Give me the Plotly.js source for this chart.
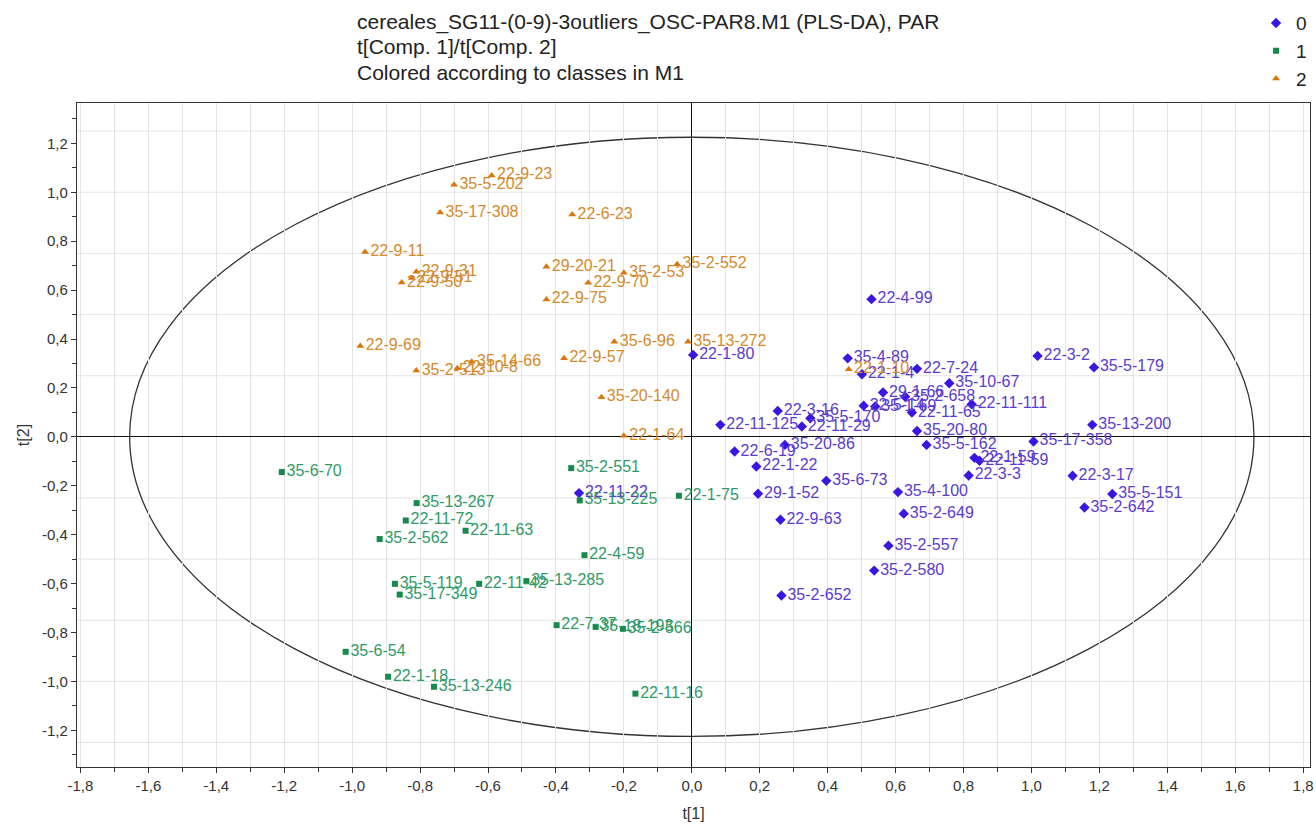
<!DOCTYPE html>
<html>
<head>
<meta charset="utf-8">
<script src="https://cdn.plot.ly/plotly-3.0.1.min.js"></script>
<style>html,body{margin:0;padding:0;background:#fff;}#chart{width:1316px;height:827px;}</style>
</head>
<body>
<div id="chart"></div>
<script>
// Class 0 (blue diamonds)
const names0 = ['22-1-80','22-4-99','35-4-89','22-1-4','22-7-24','35-10-67','29-1-66','35-2-658','22-5-14','35-1-69','22-11-65','22-11-111','35-20-80','35-5-162','22-3-16','35-5-170','22-11-29','22-11-125','35-20-86','22-6-19','22-1-22','35-6-73','29-1-52','35-4-100','22-3-3','22-1-59','22-11-59','22-3-2','35-5-179','35-13-200','35-17-358','22-3-17','35-5-151','35-2-642','22-9-63','35-2-649','35-2-557','35-2-580','35-2-652','22-11-22'];
const x0 = [0.004,0.529,0.459,0.501,0.663,0.758,0.563,0.628,0.506,0.540,0.648,0.824,0.663,0.691,0.253,0.349,0.324,0.084,0.274,0.126,0.190,0.396,0.195,0.607,0.815,0.832,0.847,1.018,1.184,1.179,1.006,1.121,1.238,1.156,0.261,0.624,0.579,0.537,0.264,-0.332];
const y0 = [0.335,0.563,0.321,0.256,0.278,0.219,0.181,0.164,0.127,0.124,0.099,0.133,0.024,-0.033,0.106,0.076,0.042,0.049,-0.033,-0.060,-0.121,-0.180,-0.233,-0.226,-0.158,-0.086,-0.098,0.331,0.284,0.049,-0.019,-0.159,-0.234,-0.289,-0.339,-0.314,-0.445,-0.547,-0.649,-0.230];

// Class 1 (green squares)
const names1 = ['35-6-70','35-2-551','35-13-225','22-1-75','35-13-267','22-11-72','22-11-63','35-2-562','22-4-59','35-5-119','22-11-42','35-13-285','35-17-349','22-7-37','35-18-193','35-2-566','35-6-54','22-1-18','35-13-246','22-11-16'];
const x1 = [-1.207,-0.355,-0.330,-0.038,-0.810,-0.842,-0.666,-0.919,-0.316,-0.874,-0.626,-0.487,-0.860,-0.398,-0.283,-0.203,-1.019,-0.894,-0.759,-0.166];
const y1 = [-0.144,-0.128,-0.260,-0.241,-0.271,-0.342,-0.384,-0.418,-0.484,-0.601,-0.601,-0.590,-0.645,-0.770,-0.777,-0.785,-0.879,-0.981,-1.022,-1.050];

// Class 2 (orange triangles)
const names2 = ['22-9-23','35-5-202','35-17-308','22-6-23','22-9-11','22-9-31','22-9-51','22-9-50','29-20-21','35-2-53','35-2-552','22-9-70','22-9-75','22-9-69','35-6-96','35-13-272','22-9-57','35-14-66','22-10-8','35-2-513','35-20-140','22-1-64','22-1-10'];
const x2 = [-0.589,-0.700,-0.741,-0.352,-0.962,-0.811,-0.824,-0.854,-0.428,-0.200,-0.043,-0.305,-0.428,-0.976,-0.228,-0.011,-0.376,-0.648,-0.690,-0.811,-0.266,-0.200,0.462];
const y2 = [1.069,1.031,0.917,0.909,0.756,0.675,0.649,0.631,0.695,0.671,0.706,0.630,0.562,0.371,0.389,0.389,0.321,0.307,0.280,0.271,0.162,0.004,0.276];

const classNames = ['0','1','2'];
const xTickVals = [-1.8,-1.6,-1.4,-1.2,-1.0,-0.8,-0.6,-0.4,-0.2,0,0.2,0.4,0.6,0.8,1.0,1.2,1.4,1.6,1.8];
const yTickVals = [-1.2,-1.0,-0.8,-0.6,-0.4,-0.2,0,0.2,0.4,0.6,0.8,1.0,1.2];
const titleLines = ['cereales_SG11-(0-9)-3outliers_OSC-PAR8.M1 (PLS-DA), PAR','t[Comp. 1]/t[Comp. 2]','Colored according to classes in M1'];

const fmt = v => v.toFixed(1).replace('.', ',');
const FONT = 'Arial, "Liberation Sans", sans-serif';

function mk(name, xs, ys, labels, symbol, mcol, tcol, msize) {
  return {
    type: 'scatter', mode: 'markers+text', name: name,
    x: xs, y: ys, text: labels, textposition: 'middle right',
    textfont: {family: FONT, size: 16, color: tcol},
    marker: {symbol: symbol, color: mcol, size: msize},
    cliponaxis: false, hoverinfo: 'text'
  };
}

const traces = [
  mk(classNames[0], x0, y0, names0, 'diamond', '#3b16e0', '#5a3ccf', 8),
  mk(classNames[1], x1, y1, names1, 'square', '#158a4c', '#2f9a68', 6),
  mk(classNames[2], x2, y2, names2, 'triangle-up', '#d9770c', '#d38a2c', 7)
];

const shapes = [];
for (let k = -5; k <= 5; k++) {
  if (k === 0) continue;
  shapes.push({type: 'line', xref: 'paper', x0: 0, x1: 1, yref: 'y', y0: k * 0.25, y1: k * 0.25,
    line: {color: '#e4e4e4', width: 1}, layer: 'below'});
}
shapes.push({type: 'circle', xref: 'x', yref: 'y', x0: -1.655, x1: 1.655, y0: -1.225, y1: 1.225,
  line: {color: '#333333', width: 1.3}, layer: 'below'});

// Title lines (three lines of the chart header), placed in container pixels
const titleY = [22, 46, 72];
const annotations = titleLines.map((t, i) => ({
  text: t, xref: 'paper', yref: 'paper', x: 0.2255, y: 1 + (103 - titleY[i]) / 664,
  xanchor: 'left', yanchor: 'middle', showarrow: false,
  font: {family: FONT, size: 21, color: '#222222'}
}));

const layout = {
  width: 1316, height: 827,
  margin: {l: 77, r: 6, t: 103, b: 60, autoexpand: false},
  paper_bgcolor: '#ffffff', plot_bgcolor: '#ffffff',
  font: {family: FONT, color: '#333333'},
  showlegend: true,
  legend: {xref: 'container', yref: 'container', x: 0.997, xanchor: 'right', y: 0.995, yanchor: 'top',
    font: {family: FONT, size: 19, color: '#222222'}, itemwidth: 30,
    bgcolor: 'rgba(0,0,0,0)'},
  annotations: annotations,
  xaxis: {
    range: [-1.81, 1.82], tickvals: xTickVals, ticktext: xTickVals.map(fmt),
    ticks: 'outside', ticklen: 5, tickcolor: '#333', showgrid: false,
    minor: {dtick: 0.1, tick0: 0, ticks: 'outside', ticklen: 4, showgrid: true, gridcolor: '#e4e4e4', tickcolor: '#333'},
    showline: true, linecolor: '#333', linewidth: 1.2, mirror: true,
    zeroline: true, zerolinecolor: '#111', zerolinewidth: 1.3,
    tickfont: {family: FONT, size: 15, color: '#333'},
    title: {text: 't[1]', font: {family: FONT, size: 16, color: '#333'}, standoff: 14}
  },
  yaxis: {
    range: [-1.35, 1.365], tickvals: yTickVals, ticktext: yTickVals.map(fmt),
    ticks: 'outside', ticklen: 5, tickcolor: '#333', showgrid: false,
    minor: {dtick: 0.1, tick0: 0, ticks: 'outside', ticklen: 4, showgrid: false, tickcolor: '#333'},
    showline: true, linecolor: '#333', linewidth: 1.2, mirror: true,
    zeroline: true, zerolinecolor: '#111', zerolinewidth: 1.3,
    tickfont: {family: FONT, size: 15, color: '#333'},
    title: {text: 't[2]', font: {family: FONT, size: 16, color: '#333'}, standoff: 8}
  },
  shapes: shapes
};

Plotly.newPlot('chart', traces, layout, {displayModeBar: false, staticPlot: true});
</script>
</body>
</html>
